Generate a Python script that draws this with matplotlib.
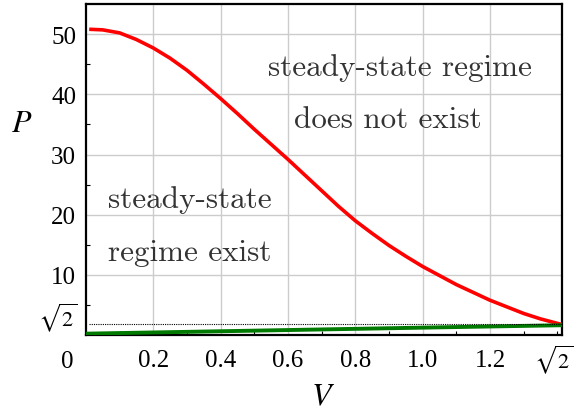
"""Existence region of the steady-state regime in the (V, P) plane."""
import numpy as np
import matplotlib
matplotlib.use("Agg")
import matplotlib.pyplot as plt

SQRT2 = np.sqrt(2.0)

# upper boundary P_max(V)
V_upper = [0.01, 0.05, 0.1, 0.15, 0.2, 0.25, 0.3, 0.35, 0.4, 0.45, 0.5, 0.55, 0.6, 0.65,
           0.7, 0.75, 0.8, 0.85, 0.9, 0.95, 1.0, 1.05, 1.1, 1.15, 1.2, 1.25, 1.3, 1.35, SQRT2]
P_upper = [50.8, 50.7, 50.2, 49.1, 47.7, 46.0, 44.0, 41.7, 39.3, 36.8, 34.2, 31.7, 29.2, 26.6,
           24.0, 21.4, 19.0, 16.9, 14.9, 13.1, 11.4, 9.9, 8.4, 7.1, 5.8, 4.7, 3.6, 2.7, 1.75]

# lower boundary P_min(V)
V_lower = [0.0, 0.35, 0.7, 1.05, SQRT2]
P_lower = [0.25, 0.6, 0.95, 1.3, 1.65]

P_ref = 1.85   # dotted reference level

xtick_vals = [0.2, 0.4, 0.6, 0.8, 1.0, 1.2, SQRT2]
xtick_labels = ["0.2", "0.4", "0.6", "0.8", "1.0", "1.2", ""]
ytick_vals = [10, 20, 30, 40, 50]

plt.rcParams["font.family"] = "Liberation Serif"
plt.rcParams["mathtext.fontset"] = "stix"

fig = plt.figure(figsize=(5.76, 4.14), dpi=100)
ax = fig.add_axes([0.149, 0.188, 0.827, 0.8])

ax.plot(V_upper, P_upper, color="#ff0000", lw=2.6, zorder=3, solid_capstyle="butt")
ax.plot(V_lower, P_lower, color="#007a00", lw=2.8, zorder=3, solid_capstyle="butt")
ax.plot([0.01, SQRT2], [P_ref, P_ref], color="black", lw=0.8, ls=(0, (1, 1)), zorder=4)

ax.set_xlim(0, SQRT2)
ax.set_ylim(0, 55)
ax.set_xticks(xtick_vals)
ax.set_xticklabels(xtick_labels)
ax.set_yticks(ytick_vals)
ax.set_xticks(np.arange(0.1, 1.41, 0.1), minor=True)
ax.set_yticks(np.arange(5, 55, 10), minor=True)
ax.tick_params(which="both", direction="in", labelsize=18, length=3, width=0.8)
ax.tick_params(axis="x", which="major", length=0, pad=10)
ax.tick_params(axis="y", which="major", length=0, pad=7)
ax.grid(True, which="major", color="#cccccc", lw=1.0)
ax.set_axisbelow(True)
for s in ax.spines.values():
    s.set_linewidth(1.6)

# shared origin label and sqrt(2) marks on both axes
ax.text(-0.038, -0.079, "0", transform=ax.transAxes, fontsize=18,
        ha="center", va="center")
ax.text(1.023, -0.072, r"$\sqrt{2}$", transform=ax.transAxes,
        fontsize=16, ha="right", va="center")
ax.text(-0.018, 3.0, r"$\sqrt{2}$", transform=ax.get_yaxis_transform(),
        fontsize=16, ha="right", va="center")

ax.set_xlabel("$V$", fontsize=23, va="center")
ax.xaxis.set_label_coords(0.498, -0.187)
ax.set_ylabel("$P$", fontsize=23, rotation=0, va="center", ha="center")
ax.yaxis.set_label_coords(-0.135, 0.64)

txt = dict(fontfamily="cmr10", fontsize=22.4, color="#333333", va="center")
ax.text(0.66, 0.81, "steady-state regime", ha="center", transform=ax.transAxes, **txt)
ax.text(0.635, 0.653, "does not exist", ha="center", transform=ax.transAxes, **txt)
ax.text(0.046, 0.411, "steady-state", ha="left", transform=ax.transAxes, **txt)
ax.text(0.046, 0.251, "regime exist", ha="left", transform=ax.transAxes, **txt)

fig.savefig("out.png", dpi=100)
